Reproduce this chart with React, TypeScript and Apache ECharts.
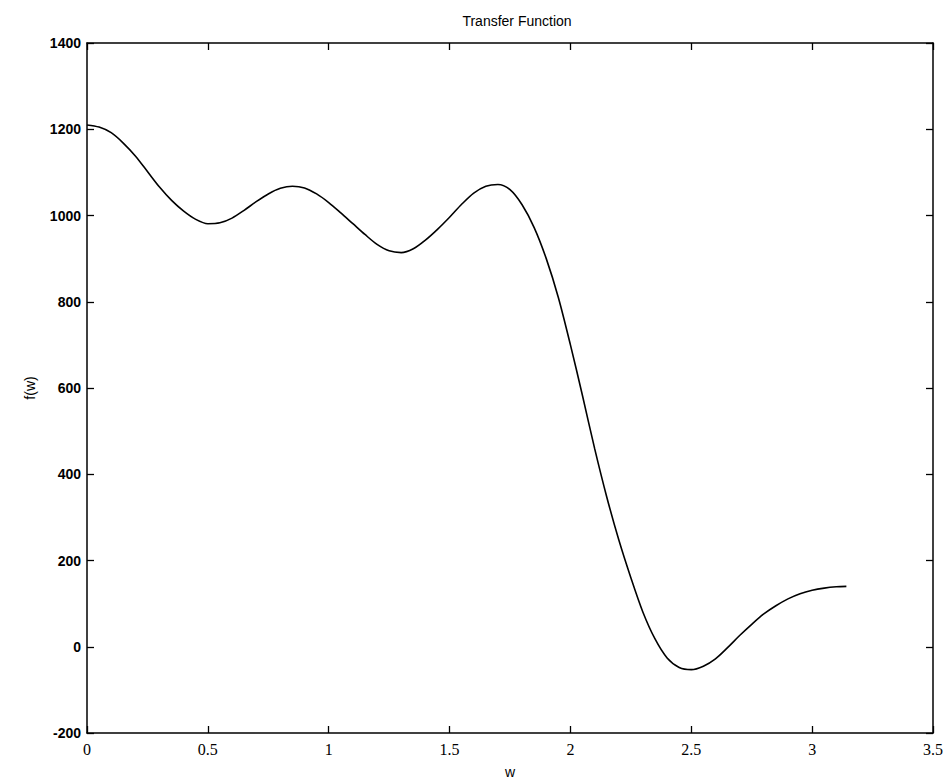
import React, { useEffect, useRef } from "react";
import * as echarts from "echarts";

const wValues = [0, 0.05, 0.1, 0.15, 0.2, 0.25, 0.3, 0.35, 0.4, 0.45, 0.5, 0.55, 0.6, 0.65, 0.7, 0.75, 0.8, 0.85, 0.9, 0.95, 1.0, 1.05, 1.1, 1.15, 1.2, 1.25, 1.3, 1.35, 1.4, 1.45, 1.5, 1.55, 1.6, 1.65, 1.7, 1.75, 1.8, 1.85, 1.9, 1.95, 2.0, 2.05, 2.1, 2.15, 2.2, 2.25, 2.3, 2.35, 2.4, 2.45, 2.5, 2.55, 2.6, 2.65, 2.7, 2.75, 2.8, 2.85, 2.9, 2.95, 3.0, 3.05, 3.1, 3.1416];
const fValues = [1210, 1205, 1192, 1168, 1138, 1102, 1066, 1035, 1010, 991, 981, 983, 994, 1012, 1032, 1050, 1063, 1068, 1064, 1050, 1030, 1006, 981, 956, 933, 918, 914, 923, 943, 968, 996, 1026, 1052, 1068, 1072, 1060, 1025, 972, 900, 810, 700, 582, 460, 348, 248, 160, 80, 18, -26, -48, -53, -45, -28, -2, 26, 52, 76, 95, 111, 123, 131, 136, 139, 140];
const xTicks = { min: 0, max: 3.5, interval: 0.5 };
const yTicks = { min: -200, max: 1400, interval: 200 };
const titleText = "Transfer Function";
const xName = "w";
const yName = "f(w)";

export default function App() {
  const ref = useRef<HTMLDivElement>(null);
  useEffect(() => {
    if (!ref.current) return;
    const chart = echarts.init(ref.current, null, { renderer: "svg" });
    const data = wValues.map((w, i) => [w, fValues[i]]);
    const axisLine = { show: true, onZero: false, lineStyle: { color: "#000", width: 1.5 } };
    const tick = { show: true, inside: true, length: 7, lineStyle: { color: "#000", width: 1.3 } };
    const plain = (v: number) => String(v);
    chart.setOption({
      animation: false,
      backgroundColor: "#fff",
      title: {
        text: titleText,
        left: 512,
        top: 9,
        textAlign: "center",
        textStyle: { fontFamily: "Liberation Sans", fontSize: 14, fontWeight: "normal", color: "#000" },
      },
      grid: { left: 87, right: 15, top: 43, bottom: 46 },
      xAxis: [
        {
          type: "value",
          position: "bottom",
          ...xTicks,
          name: xName,
          nameLocation: "middle",
          nameGap: 32,
          nameTextStyle: { fontFamily: "Liberation Sans", fontSize: 14, color: "#000" },
          axisLine,
          axisTick: tick,
          splitLine: { show: false },
          axisLabel: { margin: 8, fontFamily: "Liberation Serif", fontSize: 16, color: "#000", formatter: plain },
        },
        {
          type: "value",
          position: "top",
          ...xTicks,
          axisLine,
          axisTick: tick,
          splitLine: { show: false },
          axisLabel: { show: false },
        },
      ],
      yAxis: [
        {
          type: "value",
          position: "left",
          ...yTicks,
          name: yName,
          nameLocation: "middle",
          nameGap: 50,
          nameRotate: 90,
          nameTextStyle: { fontFamily: "Liberation Sans", fontSize: 14, color: "#000" },
          axisLine,
          axisTick: tick,
          splitLine: { show: false },
          axisLabel: { margin: 6, fontFamily: "Liberation Sans", fontSize: 14, fontWeight: "bold", color: "#000", formatter: plain },
        },
        {
          type: "value",
          position: "right",
          ...yTicks,
          axisLine,
          axisTick: tick,
          splitLine: { show: false },
          axisLabel: { show: false },
        },
      ],
      series: [
        {
          type: "line",
          data,
          smooth: 0.3,
          showSymbol: false,
          lineStyle: { color: "#000", width: 1.6 },
          xAxisIndex: 0,
          yAxisIndex: 0,
        },
      ],
    });
    return () => chart.dispose();
  }, []);
  return <div ref={ref} style={{ position: "absolute", left: 0, top: 0, width: 948, height: 784 }} />;
}
